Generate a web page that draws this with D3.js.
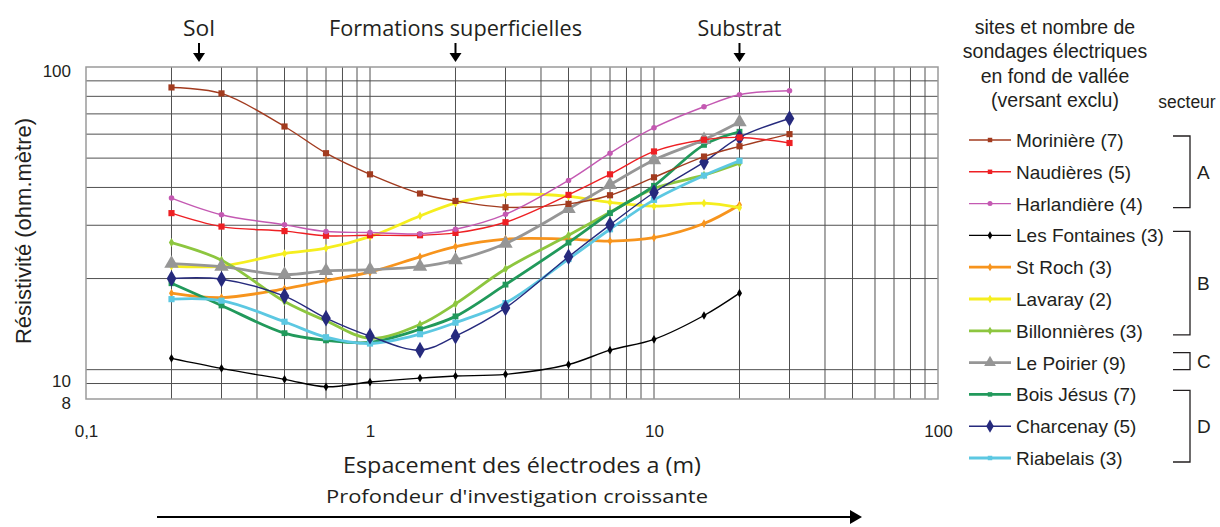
<!DOCTYPE html>
<html><head><meta charset="utf-8">
<script src="https://cdn.jsdelivr.net/npm/d3@7"></script>
<style>
body{margin:0;background:#fff;}
svg{display:block;}
text{font-family:"Liberation Sans",Arial,sans-serif;fill:#231f20;}
.cond{font-family:"Open Sans","Liberation Sans",sans-serif;}
</style></head>
<body><svg id="c" width="1220" height="527"></svg>
<script>
// ---- data ----
const spacing = [0.2,0.3,0.5,0.7,1,1.5,2,3,5,7,10,15,20,30];
const seriesNames = ["Morinière (7)","Naudières (5)","Harlandière (4)","Les Fontaines (3)","St Roch (3)","Lavaray (2)","Billonnières (3)","Le Poirier (9)","Bois Jésus (7)","Charcenay (5)","Riabelais (3)"];
const moriniere   = [85.6,81.8,63.6,51.9,44.2,38.2,36.1,34.4,35.3,37.7,43.2,50.6,54.7,60.0];
const naudieres   = [32.9,29.7,28.7,27.7,27.8,27.8,28.3,30.7,37.8,44.2,52.6,57.5,58.5,56.1];
const harlandiere = [36.9,32.5,30.1,28.6,28.4,28.1,29.1,32.6,42.2,51.9,63.0,73.9,81.0,83.5];
const fontaines   = [10.9,10.1,9.29,8.78,9.10,9.38,9.53,9.65,10.4,11.6,12.6,15.1,17.9];
const stRoch      = [17.9,17.3,18.5,19.7,21.0,23.6,25.5,27.0,27.0,26.6,27.3,30.4,35.0];
const lavaray     = [22.0,22.0,24.2,25.2,27.5,32.2,35.5,37.9,37.4,35.7,34.7,35.5,34.3];
const billonnieres= [26.3,23.0,16.8,14.5,12.7,14.1,16.5,21.5,27.8,33.1,39.7,43.9,48.1];
const poirier     = [22.4,21.9,20.6,21.2,21.4,21.9,23.0,26.1,34.0,40.8,49.3,57.5,65.8];
const boisJesus   = [19.3,16.3,13.2,12.5,12.3,13.6,15.0,19.1,26.3,32.9,40.5,55.3,61.1];
const charcenay   = [20.0,19.9,17.5,14.8,12.9,11.6,12.9,16.0,23.6,30.1,38.5,48.5,58.5,67.6];
const riabelais   = [17.1,16.9,14.4,12.8,12.2,13.1,14.3,16.6,23.2,29.1,36.4,43.8,49.0];
const seriesValues = [moriniere,naudieres,harlandiere,fontaines,stRoch,lavaray,billonnieres,poirier,boisJesus,charcenay,riabelais];
const xTickLabels = ["0,1","1","10","100"];
const xTickValues = [0.1,1,10,100];
const yTickValues = [8,10,100];
const yTickLabels = ["8","10","100"];
const sectors = ["A","B","C","D"];
const sectorMembers = [[0,2],[3,6],[7,7],[8,10]];
const depthLabels = ["Sol","Formations superficielles","Substrat"];
const depthPositions = [0.25,2,20];

// ---- styles ----
const colors = ["#a23b1f","#ee2024","#c459b2","#000000","#f7941d","#f5ee1e","#8dc63f","#969696","#21995b","#262a7d","#5cc8e2"];
const widths = [1.4,1.4,1.4,1.4,2.8,2.8,2.8,2.8,2.8,1.4,2.8];
const shapes = ["square","square","circle","diamond","diamond","diamond","diamond","triangle","square","diamond","square"];
const sizes  = [38,38,24,22,22,22,24,90,34,80,38];

const svg = d3.select("#c");
const x = d3.scaleLog().domain([0.1,100]).range([86,938]);
const y = d3.scaleLog().domain([8,100]).range([399,67]);

// grid
const g = svg.append("g");
const xt = x.ticks().filter(v=>v>0.1+1e-9 && v<100-1e-9);
const yt = y.ticks().filter(v=>v>8+1e-9 && v<100-1e-9);
g.selectAll(".vg").data(xt).enter().append("line")
  .attr("x1",d=>x(d)).attr("x2",d=>x(d)).attr("y1",y(100)).attr("y2",y(8))
  .attr("stroke","#505050").attr("stroke-width",1);
g.selectAll(".hg").data(yt).enter().append("line")
  .attr("y1",d=>y(d)).attr("y2",d=>y(d)).attr("x1",x(0.1)).attr("x2",x(100))
  .attr("stroke","#505050").attr("stroke-width",1);
g.append("rect").attr("x",x(0.1)).attr("y",y(100)).attr("width",x(100)-x(0.1)).attr("height",y(8)-y(100))
  .attr("fill","none").attr("stroke","#9a9a9a").attr("stroke-width",1.5);

// axes labels
const xAxis = d3.axisBottom(x).tickValues(xTickValues).tickFormat((d,i)=>xTickLabels[i]).tickSize(0).tickPadding(0);
const xa = svg.append("g").attr("transform","translate(0,425)").call(xAxis);
xa.select(".domain").remove();
xa.selectAll("text").attr("font-size",17).attr("fill","#231f20").attr("dy","0.71em");
const yAxis = d3.axisLeft(y).tickValues(yTickValues).tickFormat((d,i)=>yTickLabels[i]).tickSize(0).tickPadding(15);
const ya = svg.append("g").attr("transform","translate(86,0)").call(yAxis);
ya.select(".domain").remove();
ya.selectAll("text").attr("font-size",17).attr("fill","#231f20")
  .attr("dy",d=>d===10?"1.0em":"0.55em");

svg.append("text").attr("transform","translate(31,231) rotate(-90)").attr("text-anchor","middle")
  .attr("font-size",22).text("Résistivité (ohm.mètre)");
svg.append("text").attr("class","cond").attr("x",522).attr("y",473).attr("text-anchor","middle")
  .attr("font-size",21).attr("textLength",358).attr("lengthAdjust","spacingAndGlyphs").text("Espacement des électrodes a (m)");
svg.append("text").attr("class","cond").attr("x",517).attr("y",503).attr("text-anchor","middle")
  .attr("font-size",19).attr("textLength",382).attr("lengthAdjust","spacingAndGlyphs").text("Profondeur d'investigation croissante");
// bottom arrow
svg.append("line").attr("x1",157).attr("x2",852).attr("y1",517).attr("y2",517).attr("stroke","#000").attr("stroke-width",2);
svg.append("path").attr("d","M850,510 L862,517 L850,524 Z").attr("fill","#000");

// top depth labels + arrows
const condW = [32,253,84];
depthLabels.forEach((t,i)=>{
  const cx = x(depthPositions[i]);
  svg.append("text").attr("class","cond").attr("x",cx).attr("y",36).attr("text-anchor","middle")
    .attr("font-size",21).attr("textLength",condW[i]).attr("lengthAdjust","spacingAndGlyphs").text(t);
  svg.append("line").attr("x1",cx).attr("x2",cx).attr("y1",43).attr("y2",55).attr("stroke","#000").attr("stroke-width",2);
  svg.append("path").attr("d",`M${cx-6},53 L${cx+6},53 L${cx},62 Z`).attr("fill","#000");
});

// series
function sym(shape,size){
  const t = {square:d3.symbolSquare,circle:d3.symbolCircle,diamond:d3.symbolDiamond,triangle:d3.symbolTriangle}[shape];
  return d3.symbol().type(t).size(size)();
}
const line = d3.line().x(d=>x(d[0])).y(d=>y(d[1])).curve(d3.curveCatmullRom.alpha(0.5));
const order = [3,4,5,6,8,10,9,7,0,1,2];
order.forEach(i=>{
  const pts = seriesValues[i].map((v,k)=>[spacing[k],v]);
  svg.append("path").datum(pts).attr("d",line).attr("fill","none")
    .attr("stroke",colors[i]).attr("stroke-width",widths[i]);
  svg.append("g").selectAll("path").data(pts).enter().append("path")
    .attr("transform",d=>`translate(${x(d[0])},${y(d[1])})`)
    .attr("d",sym(shapes[i],sizes[i])).attr("fill",colors[i]);
});

// legend
const titleLines = ["sites et nombre de","sondages électriques","en fond de vallée","(versant exclu)"];
titleLines.forEach((t,i)=>svg.append("text").attr("x",1055).attr("y",34+i*24.3).attr("text-anchor","middle").attr("font-size",19.5).text(t));
svg.append("text").attr("x",1187).attr("y",108).attr("text-anchor","middle").attr("font-size",17.5).text("secteur");
const rowY = i=>140+i*31.8;
seriesNames.forEach((n,i)=>{
  const ly = rowY(i);
  svg.append("line").attr("x1",969).attr("x2",1011).attr("y1",ly).attr("y2",ly).attr("stroke",colors[i]).attr("stroke-width",widths[i]);
  svg.append("path").attr("transform",`translate(990,${ly})`).attr("d",sym(shapes[i],shapes[i]==="triangle"?60:(shapes[i]==="diamond"&&i===9?50:20))).attr("fill",colors[i]);
  svg.append("text").attr("x",1016).attr("y",ly+7).attr("font-size",19).text(n);
});
sectors.forEach((s,i)=>{
  const [a,b] = sectorMembers[i];
  const single = a===b;
  const y1 = rowY(a)-(single?10:4), y2 = rowY(b)+(single?7:4);
  svg.append("path").attr("d",`M1173,${y1} L1190,${y1} L1190,${y2} L1173,${y2}`).attr("fill","none").attr("stroke","#231f20").attr("stroke-width",1.3);
  svg.append("text").attr("x",1197).attr("y",(y1+y2)/2+7).attr("font-size",19).text(s);
});
</script></body></html>
